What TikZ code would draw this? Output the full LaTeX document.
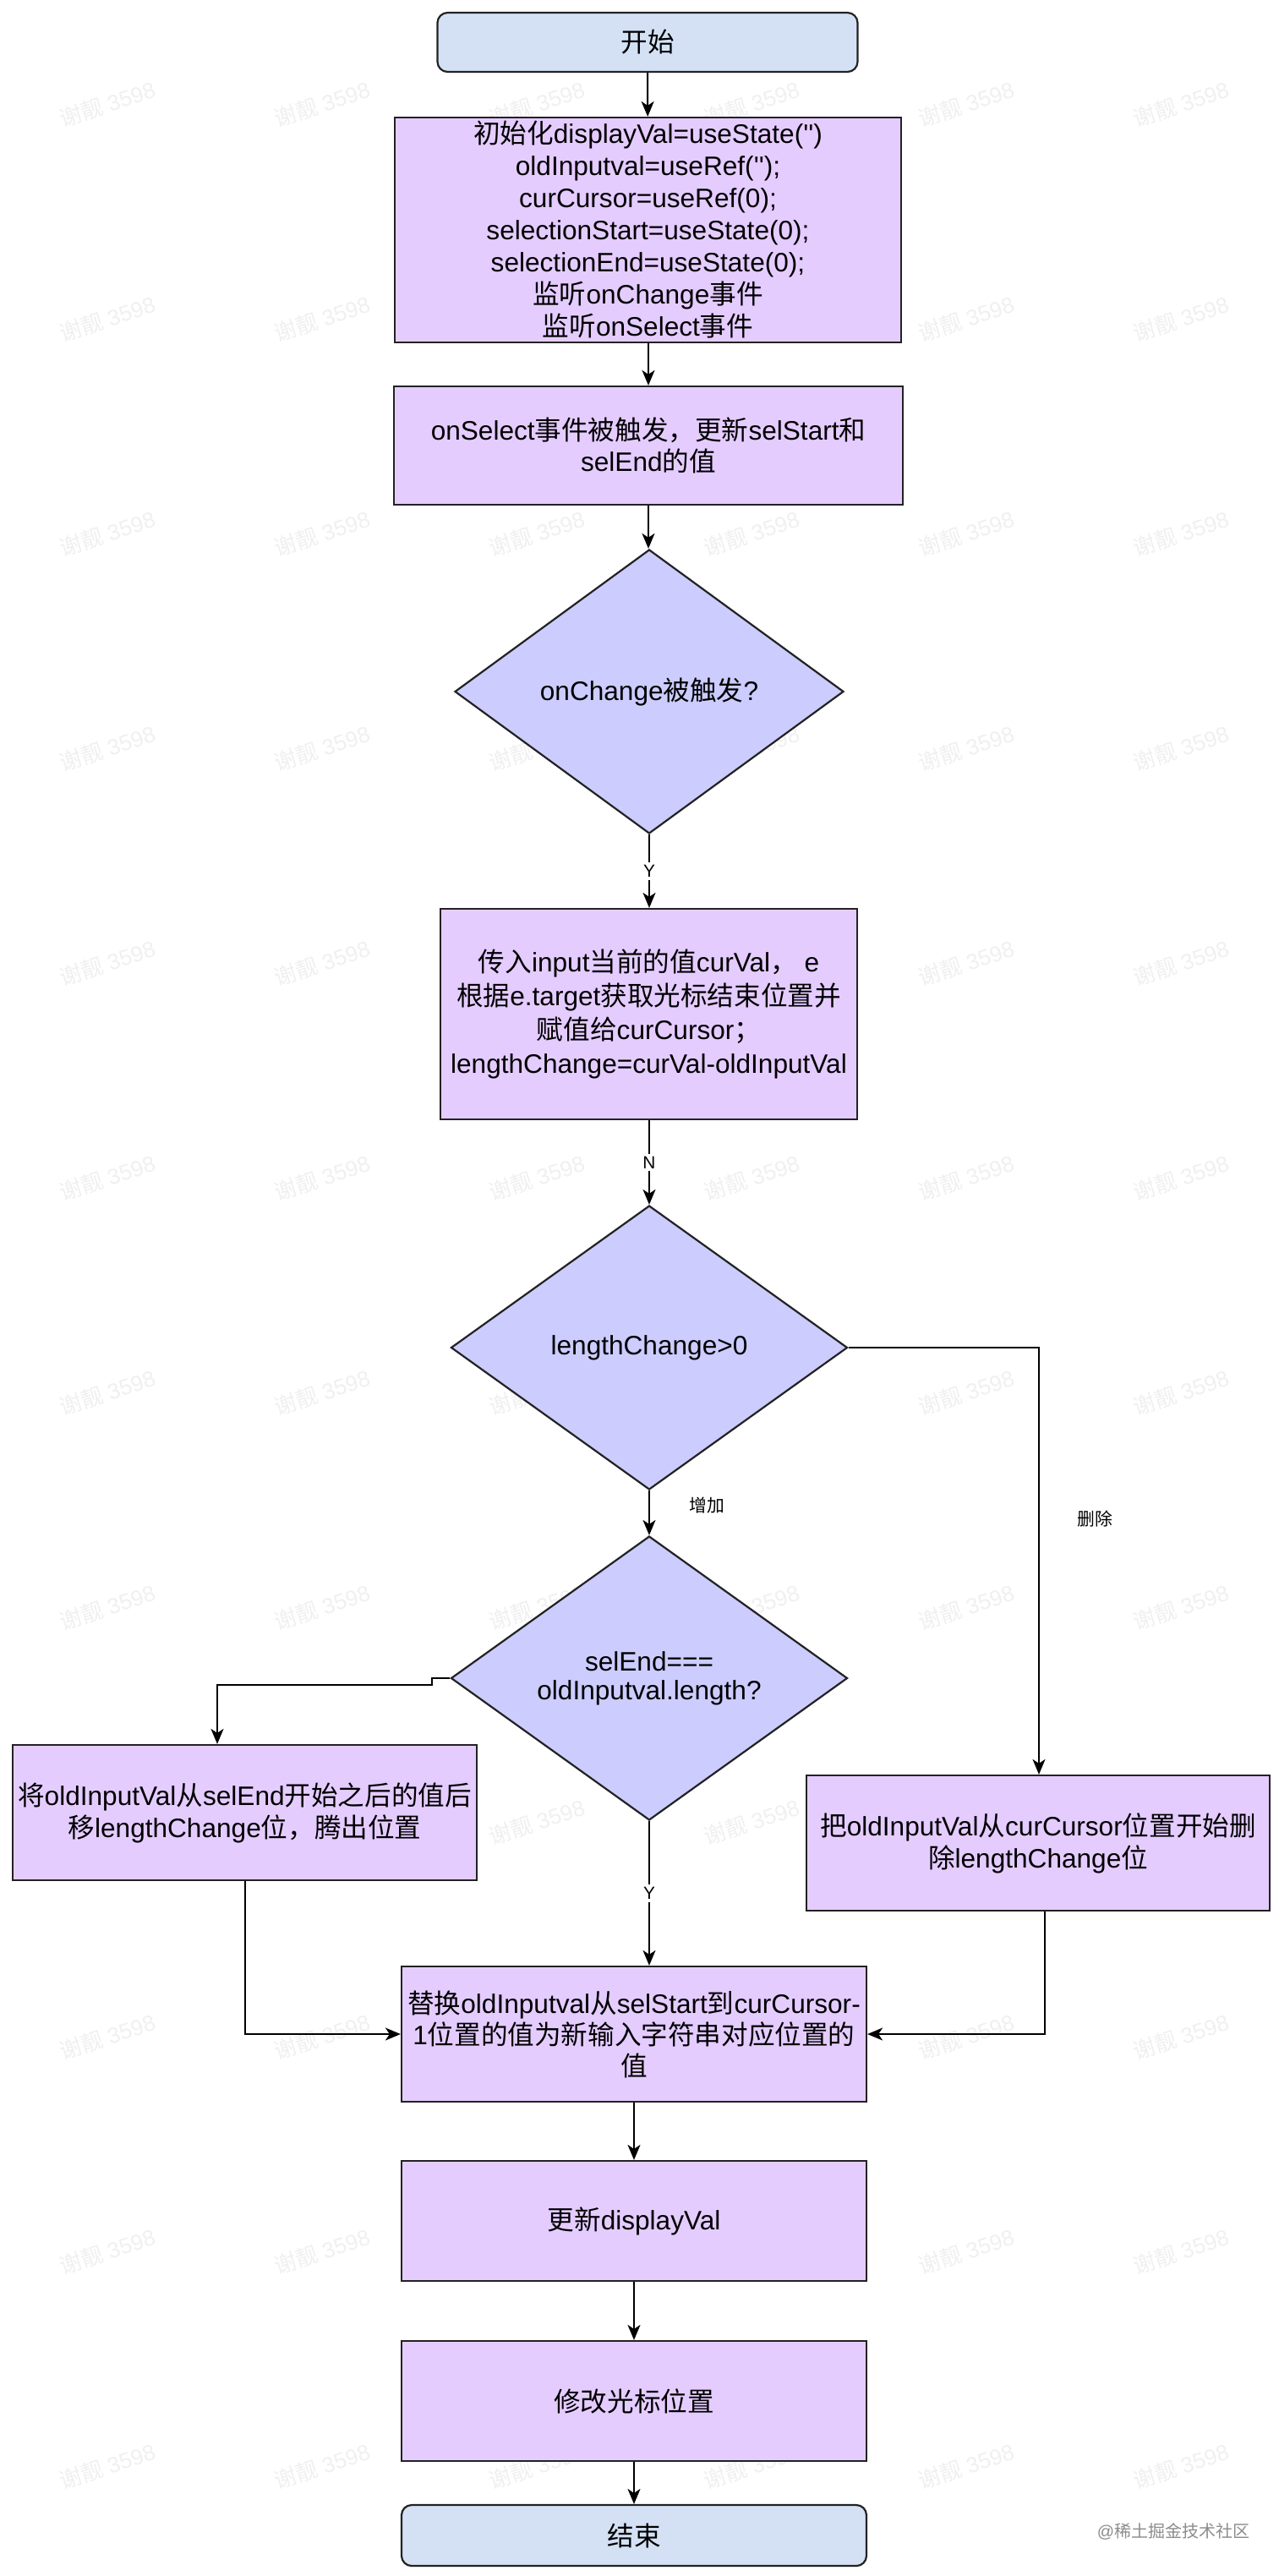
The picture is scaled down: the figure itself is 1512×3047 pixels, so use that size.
\documentclass[tikz,border=0pt]{standalone}
\usepackage{fontspec}
\newfontfamily\lat{Liberation Sans}
\newfontfamily\cjk{Noto Sans CJK SC}
\newcommand\CJ[1]{{\cjk #1}}
\usetikzlibrary{shapes.geometric,arrows.meta,calc}
\definecolor{procfill}{HTML}{E5CCFF}
\definecolor{decfill}{HTML}{CCCCFF}
\definecolor{termfill}{HTML}{D4E1F5}
\definecolor{edge}{HTML}{222222}
\begin{document}
\begin{tikzpicture}[x=0.5pt,y=-0.5pt,
  txt/.style={font=\lat\fontsize{15.8}{19}\selectfont, text=black, align=center, inner sep=0pt},
  proc/.style={txt, draw=edge, line width=1.1pt, fill=procfill, rectangle},
  term/.style={txt, draw=edge, line width=1.1pt, fill=termfill, rectangle, rounded corners=6pt},
  dec/.style={txt, draw=edge, line width=1.1pt, fill=decfill, diamond, inner sep=0pt},
  lbl/.style={font=\lat\fontsize{10.4}{12}\selectfont, text=black, inner sep=1.5pt},
  onl/.style={lbl, fill=white},
  arr/.style={-{Stealth[length=9pt,width=7.5pt,inset=2.5pt]}, line width=1pt, draw=black},
  wm/.style={font=\lat\fontsize{13}{14}\selectfont, text=black!6, rotate=18}
]
\useasboundingbox[fill=white] (0,0) rectangle (1512,3047);

% watermarks
\foreach \i in {0,...,5}{
  \foreach \j in {0,...,11}{
    \node[wm] (wm-\i-\j) at ({127+254*\i},{123+254*\j}) {\CJ{谢靓} 3598};
  }
}

\node[term, minimum width=248.5pt, minimum height=35pt] (start) at (766,50) {\CJ{开始}};

\node[proc, minimum width=299.5pt, minimum height=133pt, font=\lat\fontsize{15.8}{19}\selectfont] (init) at (766.5,272)
 {\CJ{初始化}displayVal=useState('')\\
  oldInputval=useRef('');\\
  curCursor=useRef(0);\\
  selectionStart=useState(0);\\
  selectionEnd=useState(0);\\
  \CJ{监听}onChange\CJ{事件}\\
  \CJ{监听}onSelect\CJ{事件}};

\node[proc, minimum width=301pt, minimum height=70pt, font=\lat\fontsize{15.8}{18.5}\selectfont] (sel) at (767,527)
 {onSelect\CJ{事件被触发，更新}selStart\CJ{和}\\ selEnd\CJ{的值}};

\node[dec, minimum width=230pt, minimum height=168pt] (d1) at (768,818) {onChange\CJ{被触发}?};

\node[proc, minimum width=246.5pt, minimum height=124.5pt, font=\lat\fontsize{15.8}{20}\selectfont] (box3) at (767.5,1199.5)
 {\CJ{传入}input\CJ{当前的值}curVal\CJ{，} e\\
  \CJ{根据}e.target\CJ{获取光标结束位置并}\\
  \CJ{赋值给}curCursor\CJ{；}\\
  lengthChange=curVal-oldInputVal};

\node[dec, minimum width=234.5pt, minimum height=168pt] (d2) at (768,1594) {lengthChange>0};

\node[dec, minimum width=234.5pt, minimum height=168pt, font=\lat\fontsize{15.8}{17}\selectfont] (d3) at (768,1985) {selEnd===\\ oldInputval.length?};

\node[proc, minimum width=274.5pt, minimum height=80pt] (L) at (289.5,2144)
 {\CJ{将}oldInputVal\CJ{从}selEnd\CJ{开始之后的值后}\\ \CJ{移}lengthChange\CJ{位，腾出位置}};

\node[proc, minimum width=274pt, minimum height=80pt] (R) at (1228,2180)
 {\CJ{把}oldInputVal\CJ{从}curCursor\CJ{位置开始删}\\ \CJ{除}lengthChange\CJ{位}};

\node[proc, minimum width=275pt, minimum height=80pt, font=\lat\fontsize{15.8}{18.5}\selectfont] (rep) at (750,2406)
 {\CJ{替换}oldInputval\CJ{从}selStart\CJ{到}curCursor-\\
  1\CJ{位置的值为新输入字符串对应位置的}\\
  \CJ{值}};

\node[proc, minimum width=275pt, minimum height=71pt] (disp) at (750,2627) {\CJ{更新}displayVal};
\node[proc, minimum width=275pt, minimum height=71pt] (mod) at (750,2840) {\CJ{修改光标位置}};
\node[term, minimum width=275pt, minimum height=36pt] (end) at (750,2999) {\CJ{结束}};

% connectors
\draw[arr] (start) -- (init);
\draw[arr] (init.south -| sel.north) -- (sel.north);
\draw[arr] (sel.south) -- (sel.south |- d1.north);
\draw[arr] (d1.south) -- node[onl] (ly1) {Y} (d1.south |- box3.north);
\draw[arr] (box3.south -| d2.north) -- node[onl] (ln) {N} (d2.north);
\draw[arr] (d2.south) -- (d3.north);
\node[lbl] (ladd) at (836,1781) {\CJ{增加}};

\coordinate (rx) at (1229,0);
\draw[arr] (d2.east) -| (rx |- R.north);
\node[lbl] (ldel) at (1295,1797) {\CJ{删除}};

\coordinate (s1) at (511,1985);
\coordinate (s2) at (511,1993);
\coordinate (lx) at (257,0);
\draw[arr] (d3.west) -- (s1) -- (s2) -| (lx |- L.north);

\draw[arr] (d3.south) -- node[onl] (ly2) {Y} (d3.south |- rep.north);

\coordinate (rx2) at (1236,0);
\draw[arr] (L.south) |- (rep.west);
\draw[arr] (rx2 |- R.south) |- (rep.east);

\draw[arr] (rep) -- (disp);
\draw[arr] (disp) -- (mod);
\draw[arr] (mod) -- (end);

\node[font=\cjk\fontsize{10}{12}\selectfont, text=black!45, inner sep=0pt] (wmk) at (1388,2994) {{\lat @}稀土掘金技术社区};
\end{tikzpicture}
\end{document}
